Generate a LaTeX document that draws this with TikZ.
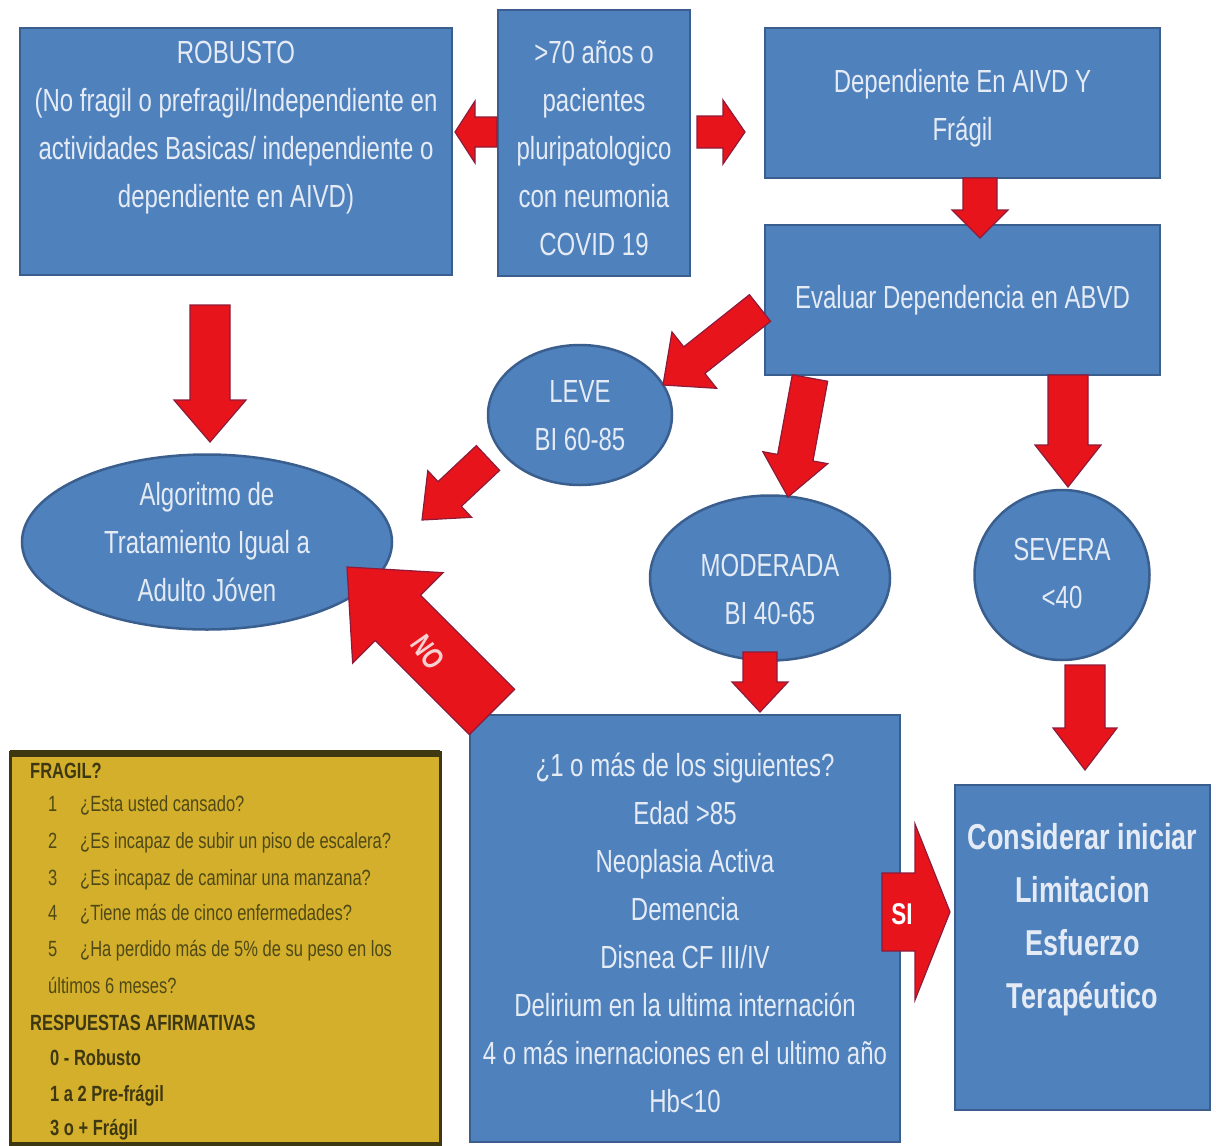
\documentclass[tikz,border=0pt]{standalone}
\usepackage{fontspec}
\setmainfont{Liberation Sans}[FakeStretch=0.75]
\usetikzlibrary{calc,shapes.geometric}
\definecolor{bfill}{HTML}{4F81BD}
\definecolor{bline}{HTML}{3A5F8E}
\definecolor{btext}{HTML}{E4EBF5}
\definecolor{rfill}{HTML}{E8141C}
\definecolor{rline}{HTML}{8E1B3A}
\definecolor{yfill}{HTML}{D4AF2C}
\definecolor{yline}{HTML}{3E3812}
\definecolor{ytext}{HTML}{4E4916}
\definecolor{notext}{HTML}{F7D0D0}
\tikzset{
 bbox/.style={draw=bline, line width=2.5pt, fill=bfill, inner sep=0pt},
 bell/.style={ellipse, draw=bline, line width=2.5pt, fill=bfill, inner sep=0pt},
 btxt/.style={text=btext, align=center, font=\fontsize{32}{48}\selectfont, inner sep=0pt},
 bbold/.style={text=btext, align=center, font=\bfseries\fontsize{36}{53}\selectfont, inner sep=0pt},
 redarr/.style={fill=rfill, draw=rline, line width=1.2pt, line join=miter},
 ytxt/.style={text=ytext, anchor=base west, font=\fontsize{22}{26}\selectfont, inner sep=0pt},
 yhead/.style={text=yline, anchor=base west, font=\bfseries\fontsize{22}{26}\selectfont, inner sep=0pt},
 arrlabel/.style={font=\bfseries\fontsize{30}{30}\selectfont, inner sep=0pt},
}
% block arrow: #1 tail coordinate, #2 tip coordinate, #3 half shaft, #4 half head, #5 head length
\newcommand\blockarr[5]{%
  \coordinate (bac) at ($(#2)!#5!(#1)$);
  \filldraw[redarr] ($(#1)!#3!90:(#2)$) -- ($(bac)!#3!90:(#2)$) -- ($(bac)!#4!90:(#2)$) -- (#2)
     -- ($(bac)!#4!-90:(#2)$) -- ($(bac)!#3!-90:(#2)$) -- ($(#1)!#3!-90:(#2)$) -- cycle;
}
\begin{document}
\begin{tikzpicture}[x=1pt,y=-1pt]
\useasboundingbox (0,0) rectangle (1216,1146);
\fill[white] (0,0) rectangle (1216,1146);

% boxes
\node[bbox, minimum width=432pt, minimum height=247pt] (rob) at (236,151.5) {};
\node[btxt] (robt) at (236,128) {ROBUSTO\\(No fragil o prefragil/Independiente en\\actividades Basicas/ independiente o\\dependiente en AIVD)};
\node[bbox, minimum width=192pt, minimum height=266pt] (age) at (594,143) {};
\node[btxt] (aget) at (594,148) {>70 años o\\pacientes\\pluripatologico\\con neumonia\\COVID 19};
\node[bbox, minimum width=395pt, minimum height=150pt] (dep) at (962.5,103) {};
\node[btxt] (dept) at (962.5,108) {Dependiente En AIVD Y\\Frágil};
\node[bbox, minimum width=395pt, minimum height=150pt] (eva) at (962.5,300) {};
\node[btxt] (evat) at (962.5,300) {Evaluar Dependencia en ABVD};

% ellipses
\node[bell, minimum width=370pt, minimum height=175pt] (alg) at (207,542) {};
\node[btxt] (algt) at (207,542) {Algoritmo de\\Tratamiento Igual a\\Adulto Jóven};
\node[bell, minimum width=184pt, minimum height=140pt] (lev) at (580,415) {};
\node[btxt] (levt) at (580,416) {LEVE\\BI 60-85};
\node[bell, minimum width=240pt, minimum height=165pt] (mod) at (770,578) {};
\node[btxt] (modt) at (770,589) {MODERADA\\BI 40-65};
\node[bell, minimum width=175pt, minimum height=170pt] (sev) at (1062,575) {};
\node[btxt] (sevt) at (1062,573) {SEVERA\\<40};

% lower boxes
\node[bbox, minimum width=430pt, minimum height=427pt] (big) at (685,928.5) {};
\node[btxt] (bigt) at (685,933) {¿1 o más de los siguientes?\\Edad >85\\Neoplasia Activa\\Demencia\\Disnea CF III/IV\\Delirium en la ultima internación\\4 o más inernaciones en el ultimo año\\Hb<10};
\node[bbox, minimum width=255pt, minimum height=325pt] (con) at (1082.5,947.5) {};
\node[bbold] (cont) at (1082.5,920) {Considerar iniciar\\Limitacion\\Esfuerzo\\Terapéutico};

% yellow box
\fill[yfill] (10,752) rectangle (440,1146);
\draw[yline, line width=3pt] (10,1146) -- (10,752) -- (440,752) -- (440,1146);
\draw[yline, line width=7pt] (10,753) -- (440,753);
\draw[yline, line width=5pt] (10,1144) -- (440,1144);
\node[yhead] (y0) at (30,778) {FRAGIL?};
\node[ytxt] (y1n) at (48,811) {1};
\node[ytxt] (y1) at (80,811) {¿Esta usted cansado?};
\node[ytxt] (y2n) at (48,848) {2};
\node[ytxt] (y2) at (80,848) {¿Es incapaz de subir un piso de escalera?};
\node[ytxt] (y3n) at (48,885) {3};
\node[ytxt] (y3) at (80,885) {¿Es incapaz de caminar una manzana?};
\node[ytxt] (y4n) at (48,920) {4};
\node[ytxt] (y4) at (80,920) {¿Tiene más de cinco enfermedades?};
\node[ytxt] (y5n) at (48,956) {5};
\node[ytxt] (y5) at (80,956) {¿Ha perdido más de 5\% de su peso en los};
\node[ytxt] (y6) at (48,993) {últimos 6 meses?};
\node[yhead] (y7) at (30,1030) {RESPUESTAS AFIRMATIVAS};
\node[yhead] (y8) at (50,1065) {0 - Robusto};
\node[yhead] (y9) at (50,1101) {1 a 2 Pre-frágil};
\node[yhead] (y10) at (50,1135) {3 o + Frágil};

% arrow end points
\coordinate (a1s) at (497,132);  \coordinate (a1e) at (455,132);
\coordinate (a2s) at (697,132);  \coordinate (a2e) at (745,132);
\coordinate (a3s) at (980,178);  \coordinate (a3e) at (980,238);
\coordinate (a4s) at (210,305);  \coordinate (a4e) at (210,442);
\coordinate (a5s) at (760,308);  \coordinate (a5e) at (663,385);
\coordinate (a6s) at (810,378);  \coordinate (a6e) at (788,497);
\coordinate (a7s) at (1068,375); \coordinate (a7e) at (1068,487);
\coordinate (a8s) at (488,458);  \coordinate (a8e) at (422,520);
\coordinate (a9s) at (492,712);  \coordinate (a9e) at (347,567);
\coordinate (a10s) at (760,652); \coordinate (a10e) at (760,712);
\coordinate (a11s) at (1085,665);\coordinate (a11e) at (1085,770);
\coordinate (a12s) at (882,912); \coordinate (a12e) at (950,912);

\blockarr{a1s}{a1e}{15pt}{31pt}{20pt}
\blockarr{a2s}{a2e}{16pt}{32pt}{22pt}
\blockarr{a3s}{a3e}{17pt}{28pt}{28pt}
\blockarr{a4s}{a4e}{20pt}{36pt}{42pt}
\blockarr{a5s}{a5e}{17pt}{36pt}{40pt}
\blockarr{a6s}{a6e}{18pt}{33pt}{40pt}
\blockarr{a7s}{a7e}{20pt}{33pt}{42pt}
\blockarr{a8s}{a8e}{17pt}{32pt}{38pt}
\blockarr{a9s}{a9e}{32pt}{64pt}{72pt}
\blockarr{a10s}{a10e}{17pt}{28pt}{30pt}
\blockarr{a11s}{a11e}{20pt}{32pt}{42pt}
\blockarr{a12s}{a12e}{39pt}{88pt}{35pt}

\node[arrlabel, text=notext, rotate=-55] (no) at (428,652) {NO};
\node[arrlabel, text=white] (si) at (902,914) {SI};
\end{tikzpicture}
\end{document}
